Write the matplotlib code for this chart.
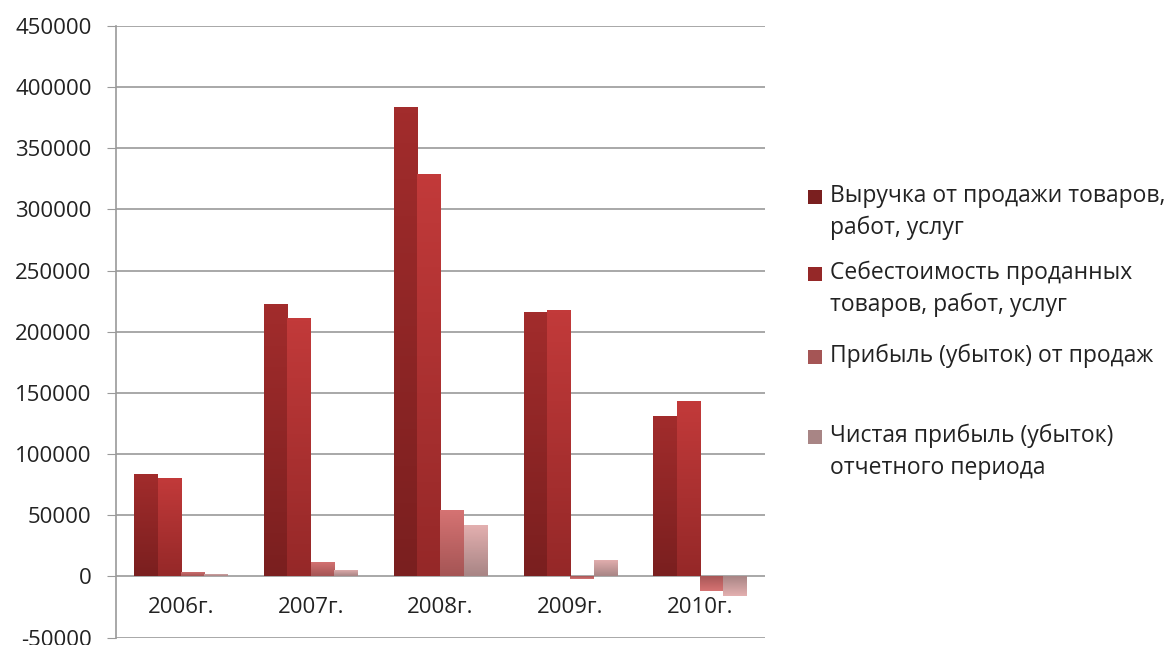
import numpy as np
import matplotlib.pyplot as plt
from matplotlib.colors import LinearSegmentedColormap
from matplotlib.patches import Rectangle

plt.rcParams['font.family'] = ['Open Sans', 'DejaVu Sans']

# данные
годы = ['2006г.', '2007г.', '2008г.', '2009г.', '2010г.']
выручка = [84000, 223000, 384000, 216500, 131500]
себестоимость = [80500, 211000, 329000, 218000, 143000]
прибыль_продажи = [3300, 11700, 54500, -1900, -12300]
чистая_прибыль = [2200, 5500, 41900, 13600, -16300]

подписи = ['Выручка от продажи товаров,\nработ, услуг',
           'Себестоимость проданных\nтоваров, работ, услуг',
           'Прибыль (убыток) от продаж',
           'Чистая прибыль (убыток)\nотчетного периода']
# (верх, низ) градиента
цвета = [('#A22C2C', '#7A1F1F'),
         ('#C23A3A', '#952828'),
         ('#D67373', '#A55555'),
         ('#E4B0B0', '#A88585')]

fig = plt.figure(figsize=(11.69, 6.45), dpi=100)
ax = fig.add_axes([0.0992, 0.0116, 0.5552, 0.9481])

x = np.arange(len(годы))
w = 0.18
серии = [выручка, себестоимость, прибыль_продажи, чистая_прибыль]
ymin, ymax = -50000, 450000

for i, (vals, (c_top, c_bot)) in enumerate(zip(серии, цвета)):
    bars = ax.bar(x + (i - 1.5) * w, vals, w, color='none', edgecolor='none', zorder=3)
    cmap = LinearSegmentedColormap.from_list('g%d' % i, [c_bot, c_top])
    for b in bars:
        x0, y0 = b.get_x(), b.get_y()
        h = b.get_height()
        lo, hi = min(y0, y0 + h), max(y0, y0 + h)
        grad = np.linspace(0, 1, 64).reshape(-1, 1)
        if h < 0:
            grad = grad[::-1]
        im = ax.imshow(grad, cmap=cmap, origin='lower', aspect='auto',
                       extent=[x0, x0 + b.get_width(), lo, hi], zorder=3)
        im.set_clip_path(b)

ax.set_xlim(-0.5, len(годы) - 0.5)
ax.set_ylim(ymin, ymax)
ax.set_yticks(np.arange(ymin, ymax + 1, 50000))
ax.set_yticklabels([str(v) for v in range(ymin, ymax + 1, 50000)], fontsize=16, color='#222222')
ax.tick_params(axis='y', length=6.5, color='#9a9a9a', pad=11)
ax.set_xticks([])
ax.grid(axis='y', color='#9a9a9a', linewidth=1.2, zorder=0)

for s in ['top', 'right', 'bottom']:
    ax.spines[s].set_visible(False)
ax.spines['left'].set_color('#9a9a9a')
ax.spines['left'].set_linewidth(1.2)

for xi, г in zip(x, годы):
    ax.text(xi, -25500, г, ha='center', va='center', fontsize=16, color='#222222')

# легенда
H = 645.0
верх_строк = [197, 274, 357, 437]
for (c_top, c_bot), текст, yp in zip(цвета, подписи, верх_строк):
    fig.patches.append(Rectangle((808 / 1169, (H - yp - 7) / H), 14 / 1169, 14 / H,
                                 transform=fig.transFigure, facecolor=c_bot, edgecolor='none'))
    fig.text(830 / 1169, (H - yp + 13) / H, текст, ha='left', va='top', fontsize=16.5,
             color='#222222', linespacing=1.41)

fig.savefig('out.png', dpi=100)
